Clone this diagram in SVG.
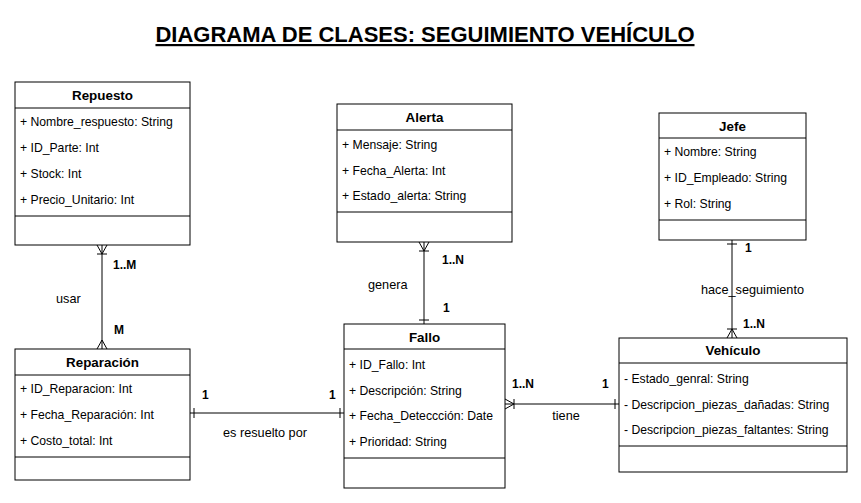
<svg xmlns="http://www.w3.org/2000/svg" width="861" height="503" viewBox="0 0 861 503">
<style>
  .box{fill:#fff;stroke:#000;stroke-width:1}
  .ln{stroke:#000;stroke-width:1;fill:none}
  .hd{font-family:"Liberation Sans",Arial,sans-serif;font-size:13.4px;font-weight:bold;text-anchor:middle;fill:#000}
  .at{font-family:"Liberation Sans",Arial,sans-serif;font-size:12.2px;fill:#000}
  .lb{font-family:"Liberation Sans",Arial,sans-serif;font-size:12.7px;fill:#000}
  .lbb{font-family:"Liberation Sans",Arial,sans-serif;font-size:12px;font-weight:bold;fill:#000}
  .title{font-family:"Liberation Sans",Arial,sans-serif;font-size:22px;font-weight:bold;text-anchor:middle;fill:#000;text-decoration:underline}
</style>
<rect width="861" height="503" fill="#fff"/>
<text class="title" x="425" y="42">DIAGRAMA DE CLASES: SEGUIMIENTO VEHÍCULO</text>

<g id="connectors">
  <path class="ln" d="M102 245 V349"/>
  <path class="ln" d="M97 245 L102 254 L107 245 M97 254 H107"/>
  <path class="ln" d="M97 349 L102 340 L107 349"/>
  <path class="ln" d="M424 242 V324"/>
  <path class="ln" d="M419 242 L424 251 L429 242 M419 251 H429"/>
  <path class="ln" d="M419 320 H429"/>
  <path class="ln" d="M732 240 V338"/>
  <path class="ln" d="M727 244 H737"/>
  <path class="ln" d="M727 338 L732 329 L737 338 M727 329 H737"/>
  <path class="ln" d="M190 413 H344"/>
  <path class="ln" d="M194 408 V418 M340 408 V418"/>
  <path class="ln" d="M505 404 H619"/>
  <path class="ln" d="M505 399 L514 404 L505 409 M514 399 V409"/>
  <path class="ln" d="M615 399 V409"/>
  <text class="lbb" x="113" y="269">1..M</text>
  <text class="lb" x="56" y="303">usar</text>
  <text class="lbb" x="114" y="334">M</text>
  <text class="lbb" x="442" y="264">1..N</text>
  <text class="lb" x="368" y="289">genera</text>
  <text class="lbb" x="443" y="312">1</text>
  <text class="lbb" x="745" y="252">1</text>
  <text class="lb" x="701" y="294">hace_seguimiento</text>
  <text class="lbb" x="743" y="328">1..N</text>
  <text class="lbb" x="202" y="399">1</text>
  <text class="lbb" x="329" y="399">1</text>
  <text class="lb" x="265" y="437" text-anchor="middle">es resuelto por</text>
  <text class="lbb" x="512" y="388">1..N</text>
  <text class="lbb" x="602" y="388">1</text>
  <text class="lb" x="566" y="420" text-anchor="middle">tiene</text>
</g>

<g id="repuesto">
  <rect class="box" x="15" y="82" width="175" height="163"/>
  <path class="ln" d="M15 108 H190 M15 216 H190"/>
  <text class="hd" x="102.5" y="100">Repuesto</text>
  <text class="at" x="20" y="126">+ Nombre_respuesto: String</text>
  <text class="at" x="20" y="152">+ ID_Parte: Int</text>
  <text class="at" x="20" y="178">+ Stock: Int</text>
  <text class="at" x="20" y="204">+ Precio_Unitario: Int</text>
</g>

<g id="alerta">
  <rect class="box" x="337" y="104" width="175" height="138"/>
  <path class="ln" d="M337 130 H512 M337 212 H512"/>
  <text class="hd" x="424.5" y="122">Alerta</text>
  <text class="at" x="342" y="148.5">+ Mensaje: String</text>
  <text class="at" x="342" y="174.5">+ Fecha_Alerta: Int</text>
  <text class="at" x="342" y="200">+ Estado_alerta: String</text>
</g>

<g id="jefe">
  <rect class="box" x="659" y="113" width="147" height="127"/>
  <path class="ln" d="M659 138 H806 M659 220 H806"/>
  <text class="hd" x="732.5" y="130.5">Jefe</text>
  <text class="at" x="664" y="156">+ Nombre: String</text>
  <text class="at" x="664" y="182">+ ID_Empleado: String</text>
  <text class="at" x="664" y="208">+ Rol: String</text>
</g>

<g id="reparacion">
  <rect class="box" x="15" y="349" width="175" height="131"/>
  <path class="ln" d="M15 375 H190 M15 457 H190"/>
  <text class="hd" x="102.5" y="367">Reparación</text>
  <text class="at" x="20" y="393">+ ID_Reparacion: Int</text>
  <text class="at" x="20" y="419">+ Fecha_Reparación: Int</text>
  <text class="at" x="20" y="444.5">+ Costo_total: Int</text>
</g>

<g id="fallo">
  <rect class="box" x="344" y="324" width="161" height="164"/>
  <path class="ln" d="M344 349 H505 M344 458 H505"/>
  <text class="hd" x="424.5" y="341.5">Fallo</text>
  <text class="at" x="349" y="368.5">+ ID_Fallo: Int</text>
  <text class="at" x="349" y="394.5">+ Descripción: String</text>
  <text class="at" x="349" y="420">+ Fecha_Deteccción: Date</text>
  <text class="at" x="349" y="445.5">+ Prioridad: String</text>
</g>

<g id="vehiculo">
  <rect class="box" x="619" y="338" width="228" height="134"/>
  <path class="ln" d="M619 363 H847 M619 446 H847"/>
  <text class="hd" x="733" y="355">Vehículo</text>
  <text class="at" x="624" y="382.5">- Estado_genral: String</text>
  <text class="at" x="624" y="408.5">- Descripcion_piezas_dañadas: String</text>
  <text class="at" x="624" y="434">- Descripcion_piezas_faltantes: String</text>
</g>
</svg>
